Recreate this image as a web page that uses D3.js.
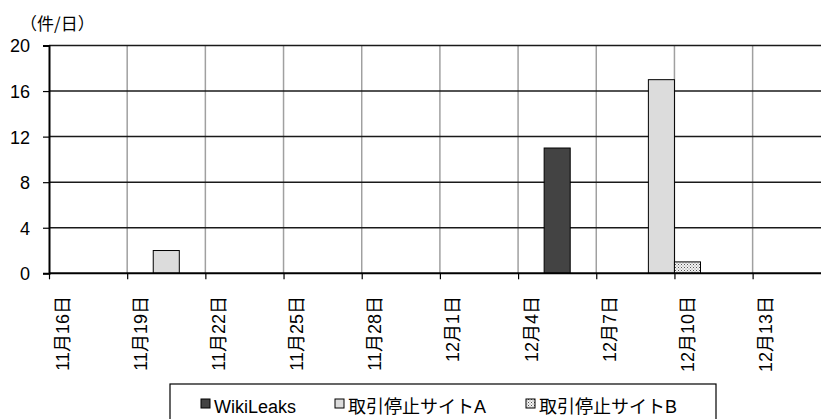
<!DOCTYPE html>
<html>
<head>
<meta charset="utf-8">
<script src="https://cdn.jsdelivr.net/npm/d3@7"></script>
<style>
  html, body { margin: 0; padding: 0; background: #fff; }
  svg text { font-family: "Liberation Sans", "Noto Sans CJK JP", sans-serif; fill: #000; }
</style>
</head>
<body>
<svg id="chart" width="821" height="419"></svg>
<script>
// Daily counts, 2010-11-16 .. 2010-12-15
const days = [
  "2010-11-16","2010-11-17","2010-11-18","2010-11-19","2010-11-20","2010-11-21",
  "2010-11-22","2010-11-23","2010-11-24","2010-11-25","2010-11-26","2010-11-27",
  "2010-11-28","2010-11-29","2010-11-30","2010-12-01","2010-12-02","2010-12-03",
  "2010-12-04","2010-12-05","2010-12-06","2010-12-07","2010-12-08","2010-12-09",
  "2010-12-10","2010-12-11","2010-12-12","2010-12-13","2010-12-14","2010-12-15"
];
const wikiLeaks = [0,0,0,0,0,0, 0,0,0,0,0,0, 0,0,0,0,0,0, 0,11,0,0,0,0, 0,0,0,0,0,0];
const siteA     = [0,0,0,0,2,0, 0,0,0,0,0,0, 0,0,0,0,0,0, 0,0,0,0,0,17, 0,0,0,0,0,0];
const siteB     = [0,0,0,0,0,0, 0,0,0,0,0,0, 0,0,0,0,0,0, 0,0,0,0,0,0, 1,0,0,0,0,0];
const seriesNames = ["WikiLeaks", "取引停止サイトA", "取引停止サイトB"];
const yTicks = [0, 4, 8, 12, 16, 20];
const xTickDays = ["2010-11-16","2010-11-19","2010-11-22","2010-11-25","2010-11-28",
                   "2010-12-01","2010-12-04","2010-12-07","2010-12-10","2010-12-13"];
const xTickLabels = ["11月16日","11月19日","11月22日","11月25日","11月28日",
                     "12月1日","12月4日","12月7日","12月10日","12月13日"];
const unitLabel = "（件/日）";

const parse = d3.utcParse("%Y-%m-%d");
const svg = d3.select("#chart");

const plotLeft = 49, plotTop = 45.5, plotBottom = 273.3;
const dayW = 26.06;
const start = parse(days[0]);
const end = d3.utcDay.offset(parse(days[days.length - 1]), 1);

const x = d3.scaleUtc().domain([start, end]).range([plotLeft, plotLeft + dayW * days.length]);
const y = d3.scaleLinear().domain([0, 20]).range([plotBottom, plotTop]);

// Dotted fill for the second trading-halt series
const defs = svg.append("defs");
const pat = defs.append("pattern").attr("id", "dots")
  .attr("patternUnits", "userSpaceOnUse").attr("width", 3).attr("height", 3);
pat.append("rect").attr("width", 3).attr("height", 3).attr("fill", "#f2f2f2");
pat.append("rect").attr("x", 0).attr("y", 0).attr("width", 1).attr("height", 1).attr("fill", "#555");
pat.append("rect").attr("x", 1.5).attr("y", 1.5).attr("width", 1).attr("height", 1).attr("fill", "#888");

const fills = ["#434343", "#dcdcdc", "url(#dots)"];

// Vertical grid lines at every third day
svg.append("g")
  .selectAll("line").data(xTickDays.slice(1)).join("line")
  .attr("x1", d => x(parse(d))).attr("x2", d => x(parse(d)))
  .attr("y1", plotTop).attr("y2", plotBottom)
  .attr("stroke", "#a0a0a0").attr("stroke-width", 1.5);

// Horizontal grid lines
svg.append("g")
  .selectAll("line").data(yTicks.slice(1)).join("line")
  .attr("x1", plotLeft).attr("x2", 821)
  .attr("y1", d => y(d)).attr("y2", d => y(d))
  .attr("stroke", "#1a1a1a").attr("stroke-width", 1.5);

// Columns: each day occupies a full slot
const series = [wikiLeaks, siteA, siteB];
series.forEach((vals, si) => {
  const data = days.map((d, i) => ({ day: parse(d), v: vals[i] })).filter(d => d.v > 0);
  svg.append("g").selectAll("rect").data(data).join("rect")
    .attr("x", d => x(d.day))
    .attr("width", d => x(d3.utcDay.offset(d.day, 1)) - x(d.day))
    .attr("y", d => y(d.v))
    .attr("height", d => y(0) - y(d.v))
    .attr("fill", fills[si])
    .attr("stroke", "#000").attr("stroke-width", 1);
});

// Y axis
const yAxis = svg.append("g").attr("transform", `translate(${plotLeft},0)`)
  .call(d3.axisLeft(y).tickValues(yTicks).tickSize(6).tickPadding(13));
yAxis.select(".domain").attr("stroke", "#000").attr("stroke-width", 2);
yAxis.selectAll(".tick line").attr("stroke", "#000").attr("stroke-width", 1.2);
yAxis.selectAll(".tick text").attr("font-size", 18).attr("dy", "0.36em")
  .style("font-family", "'Liberation Sans', sans-serif");

// X axis: tick marks at day boundaries, labels centred in the day slot
const xAxis = svg.append("g").attr("transform", `translate(0,${plotBottom})`)
  .call(d3.axisBottom(x).tickValues(xTickDays.map(parse)).tickSize(6).tickFormat(""));
xAxis.select(".domain").attr("stroke", "#000").attr("stroke-width", 2)
  .attr("d", `M${plotLeft},0H821`);
xAxis.selectAll(".tick line").attr("stroke", "#000").attr("stroke-width", 1.2);

svg.append("g").selectAll("text").data(xTickDays).join("text")
  .attr("transform", d => {
    const cx = x(parse(d)) + dayW / 2;
    return `translate(${cx},296) rotate(-90)`;
  })
  .attr("text-anchor", "end").attr("dy", "0.36em")
  .attr("font-size", 18)
  .text((d, i) => xTickLabels[i]);

// Unit label
svg.append("text").attr("x", 20).attr("y", 30).attr("font-size", 17)
  .style("font-family", "'Noto Sans CJK JP', sans-serif").text(unitLabel);

// Legend
const lg = svg.append("g");
lg.append("rect").attr("x", 170).attr("y", 384).attr("width", 546).attr("height", 60)
  .attr("fill", "#fff").attr("stroke", "#000").attr("stroke-width", 1.2);
const legendX = [201, 335, 526];
seriesNames.forEach((name, i) => {
  lg.append("rect").attr("x", legendX[i]).attr("y", 399).attr("width", 9).attr("height", 9)
    .attr("fill", fills[i]).attr("stroke", "#000").attr("stroke-width", 1);
  lg.append("text").attr("x", legendX[i] + 13).attr("y", 413).attr("font-size", 18).text(name);
});
</script>
</body>
</html>
